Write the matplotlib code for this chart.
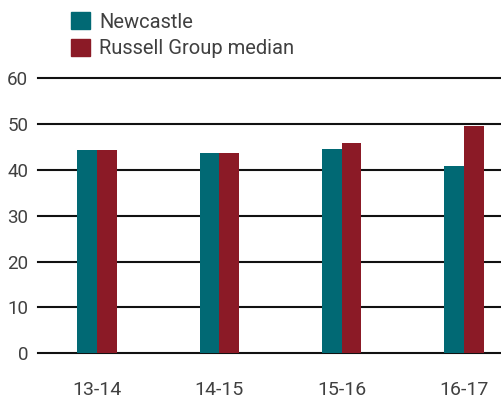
import numpy as np
import matplotlib
matplotlib.use('Agg')
import matplotlib.pyplot as plt
from matplotlib.patches import Patch

plt.rcParams['font.family'] = ['Roboto', 'DejaVu Sans']

# datos
years = ['13-14', '14-15', '15-16', '16-17']
newcastle = [44.4, 43.7, 44.6, 40.9]
russell = [44.4, 43.7, 45.9, 49.6]
yticks = [0, 10, 20, 30, 40, 50, 60]

c_new = '#016974'
c_rus = '#8b1a26'
txt = '#404040'

fig = plt.figure(figsize=(5.01, 4.0), dpi=100)
ax = fig.add_axes([38/501, 1-353.3/400, 463/501, (353.3-78.3)/400])

x = np.arange(len(years))
w = 0.16
for yv in yticks:
    ax.axhline(yv, color='#111111', lw=1.5, zorder=1, clip_on=False)
ax.bar(x - w/2, newcastle, w, color=c_new, zorder=2)
ax.bar(x + w/2, russell, w, color=c_rus, zorder=2)

ax.set_ylim(0, 60)
ax.set_xlim(-0.482, 3.302)
ax.set_yticks(yticks)
ax.set_xticks(x)
ax.set_xticklabels(years)
ax.tick_params(axis='y', length=0, pad=7, labelsize=13.5, labelcolor=txt)
ax.tick_params(axis='x', length=0, pad=20, labelsize=14, labelcolor=txt)
for s in ax.spines.values():
    s.set_visible(False)

handles = [Patch(color=c_new, label='Newcastle'), Patch(color=c_rus, label='Russell Group median')]
leg = fig.legend(handles=handles, loc='upper left', bbox_to_anchor=(55/501, 1 + 4/400),
                 frameon=False, fontsize=14.5, handlelength=0.95, handleheight=0.95,
                 handletextpad=0.45, labelspacing=0.35, borderpad=0.3)
for t in leg.get_texts():
    t.set_color(txt)

fig.savefig('out.png', dpi=100)
